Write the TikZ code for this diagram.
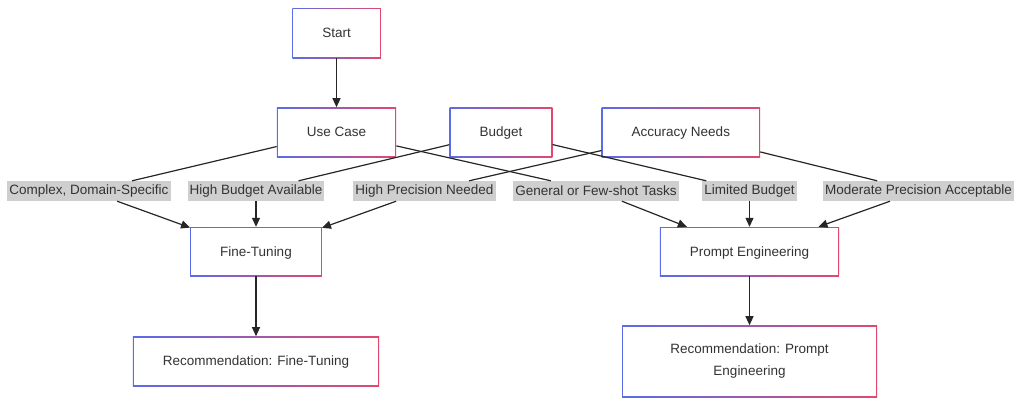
\documentclass[tikz,border=0pt]{standalone}
\usepackage{fontspec}
\setmainfont{Liberation Sans}
\usetikzlibrary{positioning,arrows.meta}
\definecolor{edgeblue}{HTML}{5A6CE8}
\definecolor{edgered}{HTML}{E2486E}
\definecolor{labelgray}{HTML}{CFCFCF}
\definecolor{textgray}{HTML}{333333}

\begin{document}
\begin{tikzpicture}[x=1pt, y=-1pt, >={Triangle[length=9pt,width=8pt]}, node distance=49pt,
    every node/.style={font=\fontsize{13.5}{22}\selectfont, text=textgray}]
  % box with a blue-to-red frame, and the grey edge labels
  \tikzset{block/.style={draw=none, fill=white, minimum height=50pt, inner xsep=30pt, align=center,
      text height=10pt, text depth=1pt,
      path picture={
        \shade[left color=edgeblue, right color=edgered]
          (path picture bounding box.south west) rectangle (path picture bounding box.north east);
        \fill[white] ([shift={(1.2pt,1.2pt)}]path picture bounding box.south west)
          rectangle ([shift={(-1.2pt,-1.2pt)}]path picture bounding box.north east);}},
    tag/.style={fill=labelgray, minimum height=20pt, inner xsep=2pt, inner ysep=0pt},
    link/.style={draw=black!85, line width=1.2pt}}
  \useasboundingbox (0,0) rectangle (1024,405);

  % nodes and layout
  \node[block] (start) at (336.5,33) {Start};
  \node[block, below=49pt of start] (usecase) {Use Case};
  \node[block, right=53pt of usecase] (budget) {Budget};
  \node[block, right=49pt of budget] (accuracy) {Accuracy Needs};

  \node[tag] (complex) at (89,191) {Complex, Domain-Specific};
  \node[tag] (highbudget) at (256,191) {High Budget Available};
  \node[tag] (highprec) at (424.5,191) {High Precision Needed};
  \node[tag] (general) at (596,191) {General or Few-shot Tasks};
  \node[tag] (limited) at (749.5,191) {Limited Budget};
  \node[tag] (moderate) at (918.5,191) {Moderate Precision Acceptable};

  \node[block, minimum height=49pt] (finetune) at (256,251.5) {Fine-Tuning};
  \node[block, minimum height=49pt] (prompt) at (749.5,251.5) {Prompt Engineering};
  \node[block, below=60pt of finetune] (recft) {Recommendation: Fine-Tuning};
  \node[block, below=49pt of prompt, minimum width=255pt, minimum height=72pt,
    text height=, text depth=] (recpe)
    {Recommendation: Prompt\\Engineering};

  % connectors, each one broken by its label
  \draw[link, ->] (start) -- (usecase);
  \draw[link] (usecase) -- (complex);
  \draw[link, ->] (complex) -- (finetune);
  \draw[link] (budget) -- (highbudget);
  \draw[link, ->] (highbudget) -- (finetune);
  \draw[link] (accuracy) -- (highprec);
  \draw[link, ->] (highprec) -- (finetune);
  \draw[link] (usecase) -- (general);
  \draw[link, ->] (general) -- (prompt);
  \draw[link] (budget) -- (limited);
  \draw[link, ->] (limited) -- (prompt);
  \draw[link] (accuracy) -- (moderate);
  \draw[link, ->] (moderate) -- (prompt);
  \draw[link, ->] (finetune) -- (recft);
  \draw[link, ->] (prompt) -- (recpe);
\end{tikzpicture}
\end{document}
